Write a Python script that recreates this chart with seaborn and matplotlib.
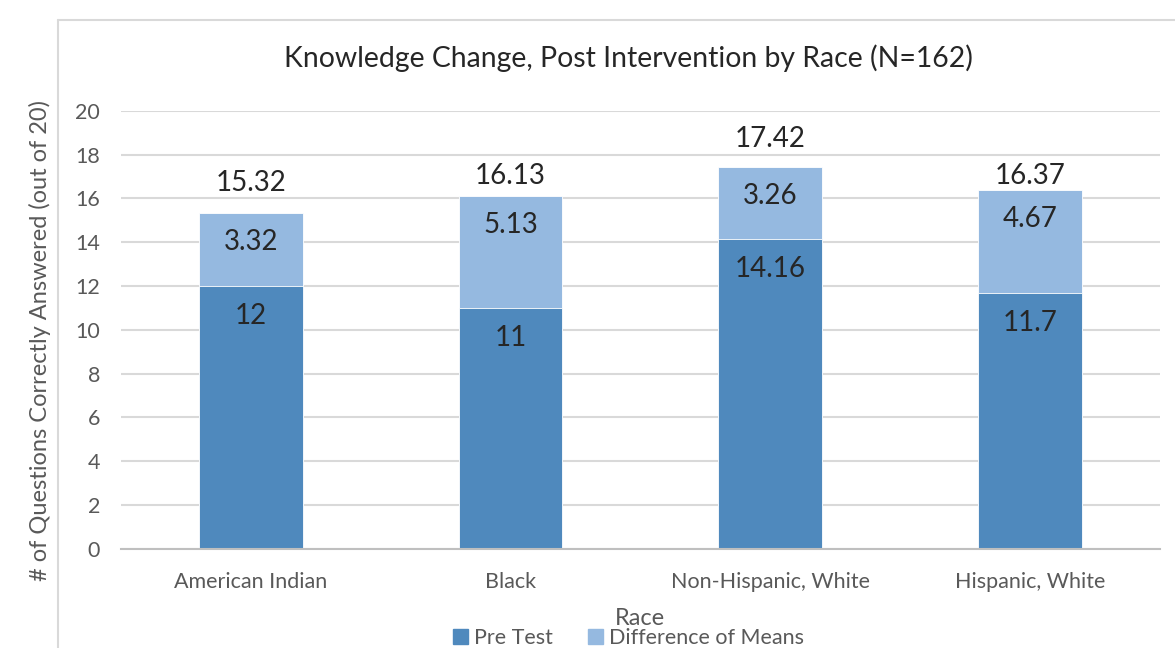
import numpy as np
import pandas as pd
import matplotlib
matplotlib.use("Agg")
import matplotlib.pyplot as plt
from matplotlib.patches import Patch
from matplotlib.lines import Line2D
import seaborn as sns

races = ["American Indian", "Black", "Non-Hispanic, White", "Hispanic, White"]
pre_test = [12, 11, 14.16, 11.7]
diff_means = [3.32, 5.13, 3.26, 4.67]
totals = [15.32, 16.13, 17.42, 16.37]
# how far the total label sits above each bar (pixels), as placed in the original
total_gap = [30, 20, 28, 14]

dark = "#4F89BD"
light = "#95B9E0"
txt = "#262626"
gray = "#595959"

sns.set_theme(style="white")
plt.rcParams["font.family"] = ["Lato", "DejaVu Sans"]

df = pd.DataFrame({"race": races, "pre": pre_test, "diff": diff_means, "total": totals})

fig = plt.figure(figsize=(11.75, 6.48), dpi=100)
ax = fig.add_axes([0.103, 0.153, 0.884, 0.676])

sns.barplot(data=df, x="race", y="total", color=light, width=0.4, saturation=1,
            edgecolor="white", linewidth=0.6, ax=ax)
sns.barplot(data=df, x="race", y="pre", color=dark, width=0.4, saturation=1,
            edgecolor="white", linewidth=0.6, ax=ax)

ax.set_ylim(0, 20)
ax.set_yticks(np.arange(0, 21, 2))
ax.set_xlim(-0.5, len(races) - 0.5)
ax.yaxis.grid(True, color="#D9D9D9", linewidth=1.5)
ax.set_axisbelow(True)
for s in ["top", "right", "left"]:
    ax.spines[s].set_visible(False)
ax.spines["bottom"].set_color("#BFBFBF")
ax.spines["bottom"].set_linewidth(1.5)
ax.tick_params(axis="both", length=0, labelsize=15.5, labelcolor=gray)
ax.tick_params(axis="y", pad=15)
ax.tick_params(axis="x", pad=17)
ax.set_xlabel("")
ax.set_ylabel("")

for i in range(len(races)):
    ax.annotate(f"{pre_test[i]:g}", (i, pre_test[i]), xytext=(0, -30),
                textcoords="offset pixels", ha="center", va="center",
                fontsize=20, color=txt)
    ax.annotate(f"{diff_means[i]:g}", (i, totals[i]), xytext=(0, -29),
                textcoords="offset pixels", ha="center", va="center",
                fontsize=20, color=txt)
    ax.annotate(f"{totals[i]:g}", (i, totals[i]), xytext=(0, total_gap[i]),
                textcoords="offset pixels", ha="center", va="center",
                fontsize=20, color=txt)

fig.text(0.535, 0.91, "Knowledge Change, Post Intervention by Race (N=162)",
         ha="center", va="center", fontsize=20.4, color=txt)
fig.text(0.034, 0.475, "# of Questions Correctly Answered (out of 20)", rotation=90,
         ha="center", va="center", fontsize=17, color=gray)
fig.text(0.545, 0.046, "Race", ha="center", va="center", fontsize=17, color=gray)

handles = [Patch(color=dark, label="Pre Test"), Patch(color=light, label="Difference of Means")]
fig.legend(handles=handles, loc="center", bbox_to_anchor=(0.535, 0.016), ncol=2,
           frameon=False, fontsize=15.5, labelcolor=gray, handlelength=0.7,
           handleheight=0.7, handletextpad=0.3, columnspacing=1.6, borderaxespad=0)

# outer chart frame (left and top edges only are visible in the original)
fig.add_artist(Line2D([58 / 1175, 58 / 1175], [0, 1 - 20 / 648], color="#D9D9D9",
                      linewidth=1.5, transform=fig.transFigure))
fig.add_artist(Line2D([58 / 1175, 1], [1 - 20 / 648, 1 - 20 / 648], color="#D9D9D9",
                      linewidth=1.5, transform=fig.transFigure))

fig.savefig("out.png", dpi=100)
